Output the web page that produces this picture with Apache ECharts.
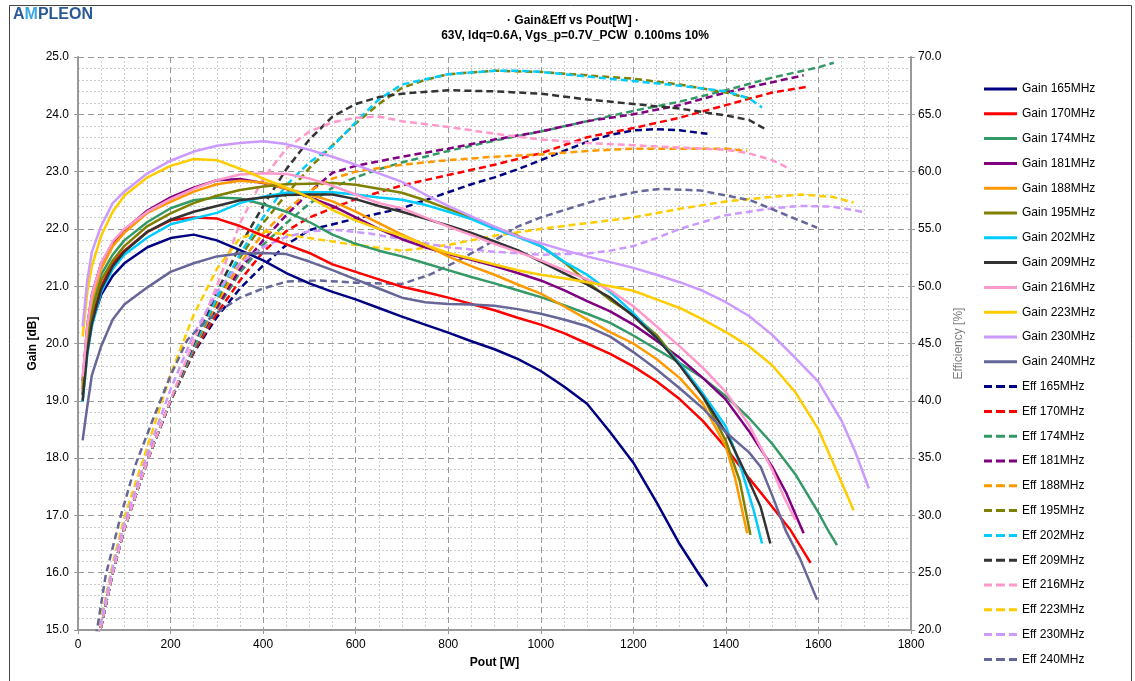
<!DOCTYPE html>
<html><head><meta charset="utf-8">
<script src="https://cdn.jsdelivr.net/npm/echarts@6/dist/echarts.min.js"></script>
<style>html,body{margin:0;padding:0;background:#fff}#c{width:1135px;height:681px}</style>
</head><body><div id="c"></div>
<script>
// ---- DATA: [Pout W, value] ----
const freqs = ['165MHz','170MHz','174MHz','181MHz','188MHz','195MHz','202MHz','209MHz','216MHz','223MHz','230MHz','240MHz'];
const colors = ['#000080','#FF0000','#339966','#800080','#FF9900','#808000','#00CCFF','#333333','#FF99CC','#FFCC00','#CC99FF','#666699'];
const xTicks = [0,200,400,600,800,1000,1200,1400,1600,1800];

const gain165 = [[10,19.1],[20,19.9],[30,20.35],[50,20.85],[75,21.18],[100,21.4],[150,21.68],[200,21.84],[250,21.9],[300,21.8],[350,21.63],[400,21.45],[450,21.23],[500,21.05],[550,20.9],[600,20.77],[650,20.62],[700,20.47],[750,20.33],[800,20.19],[850,20.04],[900,19.9],[950,19.73],[1000,19.52],[1050,19.25],[1100,18.95],[1150,18.45],[1200,17.92],[1250,17.23],[1300,16.5],[1340,16.0],[1360,15.76]];
const gain170 = [[10,19.2],[20,20.0],[30,20.5],[50,21.0],[75,21.4],[100,21.62],[150,21.95],[200,22.15],[250,22.2],[300,22.18],[350,22.05],[400,21.88],[450,21.73],[500,21.58],[550,21.38],[600,21.25],[650,21.12],[700,20.99],[750,20.9],[800,20.8],[850,20.69],[900,20.58],[950,20.45],[1000,20.33],[1050,20.18],[1100,20.0],[1150,19.82],[1200,19.6],[1250,19.34],[1300,19.03],[1350,18.65],[1400,18.18],[1450,17.65],[1500,17.15],[1540,16.74],[1583,16.17]];
const gain174 = [[10,19.3],[20,20.2],[30,20.65],[50,21.2],[75,21.55],[100,21.8],[150,22.12],[200,22.36],[250,22.5],[300,22.55],[350,22.53],[400,22.43],[450,22.3],[500,22.12],[550,21.9],[600,21.74],[650,21.62],[700,21.52],[750,21.4],[800,21.28],[850,21.16],[900,21.05],[950,20.93],[1000,20.81],[1050,20.67],[1100,20.52],[1150,20.36],[1200,20.14],[1250,19.9],[1300,19.66],[1350,19.4],[1400,19.08],[1450,18.7],[1500,18.25],[1550,17.72],[1600,17.05],[1620,16.75],[1640,16.48]];
const gain181 = [[10,19.35],[20,20.3],[30,20.85],[50,21.4],[75,21.75],[100,21.98],[150,22.32],[200,22.55],[250,22.72],[300,22.85],[350,22.87],[400,22.8],[450,22.7],[500,22.55],[550,22.4],[600,22.2],[650,22.0],[700,21.82],[750,21.68],[800,21.56],[850,21.46],[900,21.35],[950,21.23],[1000,21.1],[1050,20.93],[1100,20.74],[1150,20.56],[1200,20.33],[1250,20.05],[1300,19.75],[1350,19.4],[1400,19.02],[1450,18.47],[1500,17.85],[1530,17.4],[1568,16.69]];
const gain188 = [[10,19.25],[20,20.2],[30,20.75],[50,21.3],[75,21.7],[100,21.93],[150,22.28],[200,22.47],[250,22.65],[300,22.78],[350,22.84],[400,22.81],[450,22.7],[500,22.6],[550,22.48],[600,22.3],[650,22.1],[700,21.9],[750,21.72],[800,21.52],[850,21.35],[900,21.2],[950,21.03],[1000,20.87],[1050,20.65],[1100,20.42],[1150,20.2],[1200,20.0],[1250,19.73],[1300,19.4],[1350,18.95],[1400,18.2],[1420,17.65],[1446,16.69]];
const gain195 = [[10,19.1],[20,20.05],[30,20.55],[50,21.1],[75,21.45],[100,21.7],[150,22.05],[200,22.27],[250,22.45],[300,22.58],[350,22.68],[400,22.74],[450,22.78],[500,22.79],[550,22.8],[600,22.77],[650,22.7],[700,22.63],[750,22.5],[800,22.35],[850,22.2],[900,22.03],[950,21.88],[1000,21.7],[1050,21.42],[1100,21.08],[1150,20.76],[1200,20.5],[1250,20.15],[1300,19.65],[1350,19.08],[1400,18.3],[1430,17.6],[1453,16.66]];
const gain202 = [[10,18.98],[20,19.8],[30,20.3],[50,20.9],[75,21.3],[100,21.55],[150,21.85],[200,22.08],[250,22.18],[300,22.28],[350,22.45],[400,22.56],[450,22.63],[500,22.64],[550,22.64],[600,22.6],[650,22.55],[700,22.51],[750,22.42],[800,22.3],[850,22.17],[900,22.0],[950,21.86],[1000,21.7],[1050,21.43],[1100,21.2],[1150,20.9],[1200,20.53],[1250,20.1],[1300,19.65],[1350,19.13],[1400,18.55],[1430,17.9],[1460,17.09],[1478,16.51]];
const gain209 = [[10,19.0],[20,19.85],[30,20.35],[50,20.95],[75,21.35],[100,21.6],[150,21.95],[200,22.16],[250,22.3],[300,22.4],[350,22.5],[400,22.55],[450,22.59],[500,22.6],[550,22.6],[600,22.52],[650,22.4],[700,22.3],[750,22.18],[800,22.06],[850,21.93],[900,21.78],[950,21.63],[1000,21.43],[1050,21.23],[1100,21.03],[1150,20.8],[1200,20.48],[1250,20.1],[1300,19.62],[1350,19.08],[1400,18.45],[1440,17.78],[1475,17.15],[1496,16.51]];
const gain216 = [[10,19.42],[20,20.3],[30,20.85],[50,21.4],[75,21.78],[100,22.0],[150,22.3],[200,22.52],[250,22.7],[300,22.85],[350,22.95],[400,22.97],[450,22.96],[500,22.88],[550,22.75],[600,22.6],[650,22.45],[700,22.36],[750,22.2],[800,22.04],[850,21.89],[900,21.74],[950,21.6],[1000,21.45],[1050,21.28],[1100,21.12],[1150,20.93],[1200,20.65],[1250,20.3],[1300,19.95],[1350,19.58],[1400,19.15],[1450,18.58],[1500,17.8],[1525,17.33],[1550,16.92]];
const gain223 = [[10,20.12],[20,20.9],[30,21.35],[50,21.88],[75,22.3],[100,22.58],[150,22.9],[200,23.1],[250,23.22],[300,23.2],[350,23.05],[400,22.88],[450,22.72],[500,22.55],[550,22.33],[600,22.15],[650,22.0],[700,21.88],[750,21.72],[800,21.58],[850,21.48],[900,21.38],[950,21.28],[1000,21.2],[1050,21.14],[1100,21.07],[1150,21.0],[1200,20.92],[1250,20.77],[1300,20.62],[1350,20.42],[1400,20.2],[1450,19.95],[1500,19.62],[1550,19.15],[1600,18.5],[1630,17.95],[1676,17.09]];
const gain230 = [[10,20.3],[20,21.1],[30,21.6],[50,22.05],[75,22.45],[100,22.65],[150,22.97],[200,23.19],[250,23.35],[300,23.45],[350,23.5],[400,23.53],[450,23.48],[500,23.38],[550,23.26],[600,23.12],[650,22.97],[700,22.82],[750,22.6],[800,22.4],[850,22.22],[900,22.04],[950,21.87],[1000,21.75],[1050,21.63],[1100,21.52],[1150,21.42],[1200,21.32],[1250,21.2],[1300,21.07],[1350,20.92],[1400,20.72],[1450,20.48],[1500,20.15],[1550,19.75],[1600,19.33],[1650,18.65],[1680,18.1],[1709,17.47]];
const gain240 = [[10,18.31],[20,18.9],[30,19.45],[50,19.95],[75,20.42],[100,20.68],[150,20.98],[200,21.25],[250,21.4],[300,21.52],[350,21.57],[400,21.58],[450,21.56],[500,21.43],[550,21.28],[600,21.12],[650,20.96],[700,20.8],[750,20.72],[800,20.69],[850,20.68],[900,20.66],[950,20.6],[1000,20.52],[1050,20.42],[1100,20.3],[1150,20.12],[1200,19.85],[1250,19.55],[1300,19.22],[1350,18.87],[1400,18.45],[1450,18.1],[1475,17.85],[1500,17.35],[1530,16.72],[1560,16.25],[1597,15.53]];

const eff165 = [[40,18.3],[50,20.3],[75,25.0],[100,28.8],[150,34.8],[200,40.0],[250,44.2],[300,47.3],[350,49.8],[400,51.8],[450,53.6],[500,54.9],[560,55.5],[600,55.9],[700,56.8],[800,58.2],[850,58.9],[900,59.5],[950,60.2],[1000,61.0],[1050,61.8],[1100,62.6],[1150,63.2],[1200,63.6],[1250,63.7],[1300,63.6],[1360,63.3]];
const eff170 = [[40,18.3],[50,20.3],[75,25.0],[100,28.8],[150,34.8],[200,40.0],[250,44.3],[300,47.6],[350,50.5],[400,53.0],[450,54.8],[500,56.0],[600,57.6],[700,58.8],[800,59.7],[900,60.6],[1000,61.6],[1100,63.0],[1200,63.8],[1300,64.7],[1400,65.8],[1500,66.9],[1576,67.4]];
const eff174 = [[40,18.3],[50,20.3],[75,25.0],[100,28.8],[150,34.8],[200,40.0],[250,44.4],[300,48.0],[350,51.2],[400,53.6],[450,55.5],[500,57.2],[550,58.6],[600,59.5],[650,60.2],[700,60.8],[800,61.8],[900,62.7],[1000,63.5],[1100,64.4],[1200,65.3],[1300,66.1],[1400,67.1],[1500,68.2],[1600,69.1],[1633,69.5]];
const eff181 = [[40,18.3],[50,20.3],[75,25.0],[100,28.8],[150,34.8],[200,40.0],[250,44.5],[300,48.2],[350,51.5],[400,54.0],[450,56.2],[500,58.2],[550,59.9],[600,60.5],[700,61.3],[800,62.0],[900,62.8],[1000,63.5],[1100,64.4],[1200,65.0],[1300,65.8],[1400,66.9],[1500,67.8],[1568,68.4]];
const eff188 = [[40,18.3],[50,20.3],[75,25.0],[100,28.8],[150,34.8],[200,40.0],[250,44.6],[300,48.5],[350,52.0],[400,54.6],[450,56.6],[500,58.3],[550,59.4],[600,60.0],[700,60.6],[800,61.0],[900,61.3],[1000,61.5],[1100,61.8],[1200,62.0],[1300,62.0],[1400,62.0],[1446,61.8]];
const eff195 = [[40,18.3],[50,20.3],[75,25.0],[100,28.8],[150,34.8],[200,40.0],[250,44.7],[300,48.8],[350,52.5],[400,55.5],[450,58.0],[500,60.3],[550,62.3],[600,64.2],[650,65.9],[700,67.3],[750,68.0],[800,68.5],[900,68.8],[1000,68.7],[1100,68.4],[1200,68.1],[1300,67.6],[1400,66.9],[1450,66.4]];
const eff202 = [[40,18.3],[50,20.3],[75,25.0],[100,28.8],[150,34.8],[200,40.0],[250,44.8],[300,49.0],[350,52.8],[400,56.0],[450,58.8],[500,60.8],[550,62.2],[600,64.3],[650,66.3],[700,67.6],[800,68.5],[900,68.8],[950,68.8],[1000,68.7],[1100,68.3],[1200,67.9],[1300,67.5],[1400,67.0],[1450,66.4],[1478,65.6]];
const eff209 = [[40,18.3],[50,20.3],[75,25.0],[100,28.8],[150,34.8],[200,40.0],[250,45.0],[300,49.5],[350,53.5],[400,57.0],[450,60.2],[500,62.8],[550,64.8],[600,65.9],[650,66.5],[700,66.8],[800,67.1],[900,67.0],[1000,66.8],[1100,66.3],[1200,65.9],[1300,65.5],[1400,64.9],[1450,64.5],[1490,63.6]];
const eff216 = [[40,18.3],[50,20.3],[75,25.0],[100,28.8],[150,34.8],[200,40.1],[250,45.2],[300,50.0],[350,55.5],[400,59.4],[450,62.0],[500,63.5],[550,64.3],[600,64.7],[650,64.8],[700,64.4],[800,63.9],[900,63.3],[1000,62.8],[1100,62.5],[1200,62.3],[1300,62.1],[1400,61.9],[1450,61.6],[1500,61.0],[1540,60.2]];
const eff223 = [[38,18.5],[50,21.0],[75,25.8],[100,29.8],[150,36.0],[200,42.3],[250,47.5],[300,51.5],[350,54.2],[400,54.8],[450,54.5],[500,54.2],[600,53.6],[700,53.1],[800,53.6],[850,54.0],[900,54.4],[1000,55.0],[1100,55.5],[1200,56.0],[1300,56.75],[1400,57.4],[1500,57.8],[1560,58.0],[1630,57.8],[1676,57.3]];
const eff230 = [[40,18.5],[50,20.7],[75,25.5],[100,29.3],[150,35.4],[200,41.0],[250,45.8],[300,49.5],[350,52.0],[400,53.4],[450,54.3],[500,54.8],[560,54.9],[630,54.6],[700,54.1],[800,53.4],[900,53.0],[1000,52.75],[1100,52.85],[1150,53.1],[1200,53.5],[1250,54.2],[1300,55.0],[1400,56.2],[1500,56.8],[1560,57.0],[1630,56.95],[1702,56.45]];
const eff240 = [[35,18.5],[41,20.0],[60,24.8],[92,29.9],[125,34.5],[164,38.6],[200,42.2],[236,45.3],[272,46.8],[308,47.9],[350,49.0],[400,49.8],[450,50.4],[524,50.5],[600,50.3],[700,50.2],[760,51.0],[820,52.2],[900,54.0],[950,55.2],[1000,56.0],[1071,56.9],[1129,57.6],[1215,58.3],[1259,58.5],[1345,58.35],[1453,57.5],[1525,56.3],[1597,55.1]];

const gainData = [gain165,gain170,gain174,gain181,gain188,gain195,gain202,gain209,gain216,gain223,gain230,gain240];
const effData = [eff165,eff170,eff174,eff181,eff188,eff195,eff202,eff209,eff216,eff223,eff230,eff240];

// ---- CHART ----
const FONT = 'Arial, "Liberation Sans", sans-serif';
const chart = echarts.init(document.getElementById('c'), null, {renderer:'canvas'});
const series = [];
const legendItems = [];
const solidIcon = 'path://M0,0h33v3h-33z';
const dashIcon = 'path://M0,0h8v3h-8zM12,0h9v3h-9zM25,0h8v3h-8z';
freqs.forEach((f,i)=>{
  legendItems.push({name:'Gain '+f,icon:solidIcon});
  series.push({name:'Gain '+f,type:'line',xAxisIndex:0,yAxisIndex:0,data:gainData[i],
    showSymbol:false,symbol:'none',smooth:false,clip:true,
    lineStyle:{color:colors[i],width:2.5,join:'round'},itemStyle:{color:colors[i]},z:3});
});
freqs.forEach((f,i)=>{
  legendItems.push({name:'Eff '+f,icon:dashIcon});
  series.push({name:'Eff '+f,type:'line',xAxisIndex:0,yAxisIndex:1,data:effData[i],
    showSymbol:false,symbol:'none',smooth:false,clip:true,
    lineStyle:{color:colors[i],width:2.5,type:[7,4],join:'round'},itemStyle:{color:colors[i]},z:2});
});

const axisLine = {show:true,lineStyle:{color:'#999999',width:2}};
chart.setOption({
  animation:false,
  backgroundColor:'#ffffff',
  textStyle:{fontFamily:FONT},
  grid:{left:78,top:57,width:833,height:573,containLabel:false},
  graphic:[
    {type:'rect',shape:{x:9.5,y:5.5,width:1122,height:690},style:{fill:'none',stroke:'#444',lineWidth:1},silent:true,z:-1},
    {type:'text',left:13,top:7,style:{text:'{a|A}{m|M}{a|PLEON}',rich:{a:{fill:'#2B5A96',fontSize:16,fontWeight:'bold',fontFamily:FONT},m:{fill:'#3AA8E0',fontSize:16,fontWeight:'bold',fontFamily:FONT}}}},
    {type:'text',x:573,y:21,style:{text:'· Gain&Eff vs Pout[W] ·',fill:'#000',font:'bold 12px '+FONT,textAlign:'center',textVerticalAlign:'middle'}},
    {type:'text',x:575,y:36,style:{text:'63V, Idq=0.6A, Vgs_p=0.7V_PCW  0.100ms 10%',fill:'#000',font:'bold 12px '+FONT,textAlign:'center',textVerticalAlign:'middle'}}
  ],
  legend:{orient:'vertical',left:984,top:83,padding:0,itemWidth:33,itemHeight:3,itemGap:12.8,
    data:legendItems,textStyle:{fontSize:12,color:'#000',fontFamily:FONT},selectedMode:false},
  xAxis:[{type:'value',min:0,max:1800,interval:200,
    name:'Pout [W]',nameLocation:'middle',nameGap:27,nameTextStyle:{fontWeight:'bold',fontSize:12,color:'#000'},
    axisLine:axisLine,axisTick:{show:true,length:4,lineStyle:{color:'#999'}},
    axisLabel:{margin:9,fontSize:12,color:'#000',formatter:v=>xTicks.includes(v)?String(v):''},
    splitLine:{show:true,lineStyle:{color:'#999999',width:1,type:[6,4]}},
    minorTick:{show:false,splitNumber:4},
    minorSplitLine:{show:true,lineStyle:{color:'#cccccc',width:1,type:[2,2]}}}],
  yAxis:[
    {type:'value',min:15,max:25,interval:1,position:'left',
      name:'Gain [dB]',nameLocation:'middle',nameGap:39,nameRotate:90,nameMoveOverlap:false,nameTextStyle:{fontWeight:'bold',fontSize:12,color:'#000'},
      axisLine:axisLine,axisTick:{show:true,length:4,lineStyle:{color:'#999'}},
      axisLabel:{margin:9,fontSize:12,color:'#000',formatter:v=>v.toFixed(1)},
      splitLine:{show:true,lineStyle:{color:'#999999',width:1,type:[6,4]}},
      minorTick:{show:false,splitNumber:5},
      minorSplitLine:{show:true,lineStyle:{color:'#cccccc',width:1,type:[2,2]}}},
    {type:'value',min:20,max:70,interval:5,position:'right',
      name:'Efficiency [%]',nameLocation:'middle',nameGap:41,nameRotate:90,nameTextStyle:{fontSize:12,color:'#808080'},
      axisLine:axisLine,axisTick:{show:true,length:4,lineStyle:{color:'#999'}},
      axisLabel:{margin:7,fontSize:12,color:'#000',formatter:v=>v.toFixed(1)},
      splitLine:{show:false}}
  ],
  series:series
});
</script></body></html>
